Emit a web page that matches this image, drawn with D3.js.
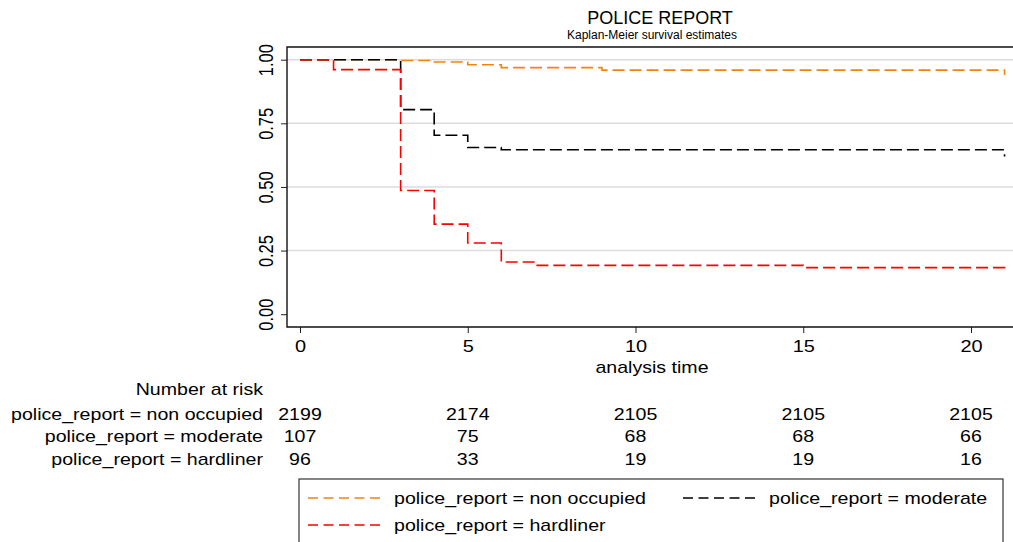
<!DOCTYPE html>
<html>
<head>
<meta charset="utf-8">
<script src="https://cdn.jsdelivr.net/npm/d3@7"></script>
<style>
  body { margin: 0; background: #fff; }
  text { font-family: "Liberation Sans", Arial, sans-serif; fill: #000; }
</style>
</head>
<body>
<div id="chart"></div>
<script>
// survival steps (time, estimate)
var nonOccupiedTime = [0, 3, 4, 5, 6, 9, 21];
var nonOccupiedSurv = [1, 0.997, 0.991, 0.980, 0.969, 0.959, 0.940];
var moderateTime = [0, 3, 4, 5, 6, 21];
var moderateSurv = [1, 0.804, 0.703, 0.655, 0.646, 0.620];
var hardlinerTime = [0, 1, 3, 4, 5, 6, 7, 15, 21];
var hardlinerSurv = [1, 0.961, 0.486, 0.354, 0.280, 0.205, 0.192, 0.183, 0.177];

// number at risk table
var riskTimes = [0, 5, 10, 15, 20];
var riskNonOccupied = [2199, 2174, 2105, 2105, 2105];
var riskModerate = [107, 75, 68, 68, 66];
var riskHardliner = [96, 33, 19, 19, 16];

var groupLabels = ["police_report = non occupied", "police_report = moderate", "police_report = hardliner"];
var groupColors = ["#f0860f", "#000000", "#ff0000"];
var xTicks = [0, 5, 10, 15, 20];
var yTicks = [0, 0.25, 0.5, 0.75, 1];

var width = 1013, height = 542;
var frame = {left: 287, top: 47, right: 1014, bottom: 327};
var stretch = 1.24; // text in the picture is a bit wider than tall

var svg = d3.select("#chart")
    .append("svg")
    .attr("width", width)
    .attr("height", height);

var x = d3.scaleLinear().domain([0, 20]).range([300, 971]);
var y = d3.scaleLinear().domain([0, 1]).range([314.2, 59.7]);

// helper: put a text at (px, py), stretched horizontally
function label(g, str, px, py, size, anchor, k) {
    return g.append("text")
        .attr("transform", "translate(" + px + "," + py + ") scale(" + (k || stretch) + ",1)")
        .attr("text-anchor", anchor || "middle")
        .style("font-size", size + "px")
        .text(str);
}

// title
label(svg, "POLICE REPORT", 660, 23.5, 18, "middle", 1.0);
label(svg, "Kaplan-Meier survival estimates", 652, 38.5, 12, "middle", 1.0);

// gridlines
svg.append("g")
    .selectAll("line")
    .data(yTicks.filter(d => d > 0))
    .join("line")
    .attr("x1", frame.left)
    .attr("x2", frame.right)
    .attr("y1", d => y(d))
    .attr("y2", d => y(d))
    .attr("stroke", "#dcdcdc")
    .attr("stroke-width", 1.5);

// y axis
var yAxis = svg.append("g")
    .attr("transform", "translate(" + frame.left + ",0)")
    .call(d3.axisLeft(y).tickValues(yTicks).tickFormat(d3.format(".2f")).tickSize(6));
yAxis.select(".domain").remove();
yAxis.selectAll("line").attr("stroke", "#222");
yAxis.selectAll("text")
    .attr("x", null).attr("dy", null)
    .attr("transform", "translate(-14,0) scale(1.21,1) rotate(-90)")
    .attr("text-anchor", "middle")
    .attr("fill", "#000")
    .style("font-size", "16.5px");

// x axis
var xAxis = svg.append("g")
    .attr("transform", "translate(0," + frame.bottom + ")")
    .call(d3.axisBottom(x).tickValues(xTicks).tickSize(6));
xAxis.select(".domain").remove();
xAxis.selectAll("line").attr("stroke", "#222");
xAxis.selectAll("text")
    .attr("y", 25).attr("dy", null)
    .attr("transform", "scale(1.21,1)")
    .attr("fill", "#000")
    .style("font-size", "16.5px");

label(svg, "analysis time", 652, 373, 15.8);

// plot frame
svg.append("path")
    .attr("d", "M" + frame.right + "," + frame.top + "H" + frame.left + "V" + frame.bottom + "H" + frame.right)
    .attr("fill", "none")
    .attr("stroke", "#111")
    .attr("stroke-width", 1.4);

// survival curves
var groups = [
    {time: nonOccupiedTime, surv: nonOccupiedSurv},
    {time: moderateTime, surv: moderateSurv},
    {time: hardlinerTime, surv: hardlinerSurv}
];

var line = d3.line()
    .x(d => x(d[0]))
    .y(d => y(d[1]))
    .curve(d3.curveStepAfter);

svg.append("g")
    .selectAll("path")
    .data(groups)
    .join("path")
    .attr("d", g => line(g.time.map((t, i) => [t, g.surv[i]])))
    .attr("fill", "none")
    .attr("stroke", (g, i) => groupColors[i])
    .attr("stroke-width", 1.6)
    .attr("stroke-dasharray", "12,5");

// number at risk
var riskRows = [riskNonOccupied, riskModerate, riskHardliner];
var rowY = [419.5, 442, 464.5];
var risk = svg.append("g");
label(risk, "Number at risk", 263, 395, 15.8, "end");
riskRows.forEach(function(row, r) {
    label(risk, groupLabels[r], 263, rowY[r], 15.8, "end");
    row.forEach(function(n, i) {
        label(risk, n, x(riskTimes[i]), rowY[r], 15.8, "middle");
    });
});

// legend
var legend = svg.append("g");
legend.append("rect")
    .attr("x", 299).attr("y", 479)
    .attr("width", 704).attr("height", 90)
    .attr("fill", "#fff")
    .attr("stroke", "#333")
    .attr("stroke-width", 1.2);

var legendPos = [[308, 498], [683, 498], [308, 525]];
legendPos.forEach(function(p, i) {
    legend.append("line")
        .attr("x1", p[0]).attr("x2", p[0] + 73)
        .attr("y1", p[1]).attr("y2", p[1])
        .attr("stroke", groupColors[i])
        .attr("stroke-width", 1.6)
        .attr("stroke-dasharray", "10,5.5");
    label(legend, groupLabels[i], p[0] + 86, p[1] + 6, 15.8, "start");
});
</script>
</body>
</html>
